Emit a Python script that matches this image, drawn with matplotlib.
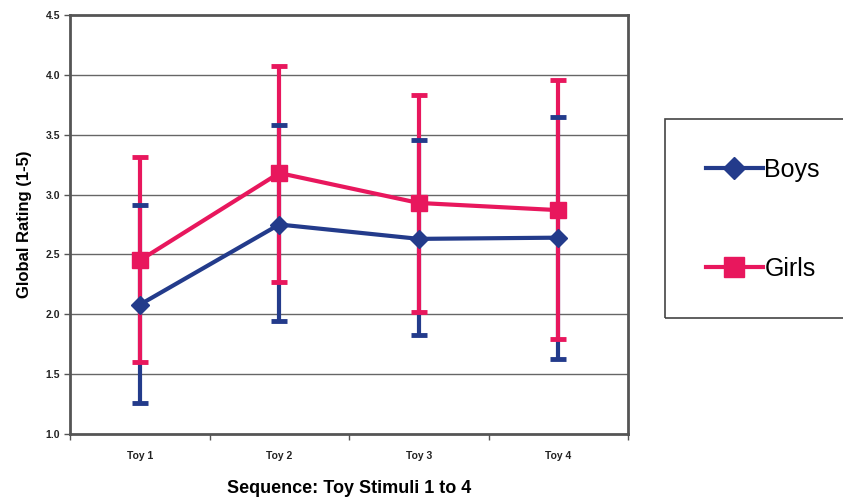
import matplotlib.pyplot as plt
from matplotlib.patches import Rectangle
from matplotlib.ticker import FixedLocator

plt.rcParams['font.family'] = ['Liberation Sans', 'DejaVu Sans']

# Données
toys = ['Toy 1', 'Toy 2', 'Toy 3', 'Toy 4']
boys_mean = [2.08, 2.75, 2.63, 2.64]
boys_upper = [2.91, 3.58, 3.46, 3.65]
boys_lower = [1.26, 1.94, 1.83, 1.63]
girls_mean = [2.45, 3.18, 2.93, 2.87]
girls_upper = [3.31, 4.07, 3.83, 3.96]
girls_lower = [1.60, 2.27, 2.02, 1.79]
y_ticks = [1.0, 1.5, 2.0, 2.5, 3.0, 3.5, 4.0, 4.5]

boys_color = '#233b8b'
girls_color = '#e8175d'

x = list(range(1, len(toys) + 1))

fig = plt.figure(figsize=(8.43, 4.98), dpi=100)
ax = fig.add_axes([70 / 843, 64 / 498, 558 / 843, 419 / 498])

# Lignes de grille
for y in y_ticks[1:-1]:
    ax.axhline(y, color='#666666', linewidth=1.0, zorder=1)

# Barres d'erreur
boys_err = [[m - l for m, l in zip(boys_mean, boys_lower)],
            [u - m for m, u in zip(boys_mean, boys_upper)]]
girls_err = [[m - l for m, l in zip(girls_mean, girls_lower)],
             [u - m for m, u in zip(girls_mean, girls_upper)]]

b_line, b_caps, b_bars = ax.errorbar(x, boys_mean, yerr=boys_err, fmt='none',
                                     ecolor=boys_color, elinewidth=3, capsize=6,
                                     capthick=3.5, zorder=2)
g_line, g_caps, g_bars = ax.errorbar(x, girls_mean, yerr=girls_err, fmt='none',
                                     ecolor=girls_color, elinewidth=3, capsize=6,
                                     capthick=3.5, zorder=3)
for c in b_caps:
    c.set_zorder(4)

# Courbes
ax.plot(x, girls_mean, color=girls_color, linewidth=3, marker='s',
        markersize=11, label='Girls', zorder=5)
ax.plot(x, boys_mean, color=boys_color, linewidth=3, marker='D',
        markersize=9, label='Boys', zorder=6)

ax.set_xlim(0.5, 4.5)
ax.set_ylim(1.0, 4.5)
ax.set_yticks(y_ticks)
ax.set_yticklabels([f'{v:.1f}' for v in y_ticks], fontsize=7.5, fontweight='bold', color='#222222')
ax.set_xticks(x)
ax.set_xticklabels(toys, fontsize=7.5, fontweight='bold', color='#222222')
ax.tick_params(axis='x', which='major', length=0, pad=12)
ax.xaxis.set_minor_locator(FixedLocator([0.5, 1.5, 2.5, 3.5, 4.5]))
ax.tick_params(axis='x', which='minor', length=4, width=1, color='#555555', direction='out')
ax.tick_params(axis='y', length=4, width=1, color='#555555', direction='out', pad=3)

for s in ax.spines.values():
    s.set_color('#555555')
    s.set_linewidth(2)

ax.set_ylabel('Global Rating (1-5)', fontsize=12, fontweight='bold', labelpad=10)
ax.set_xlabel('Sequence: Toy Stimuli 1 to 4', fontsize=13, fontweight='bold', labelpad=14)

# Légende dans un cadre qui dépasse à droite
fig.patches.append(Rectangle((665 / 843, 180 / 498), 200 / 843, 199 / 498,
                             transform=fig.transFigure, fill=False,
                             edgecolor='#444444', linewidth=1.2))
handles, labels = ax.get_legend_handles_labels()
fig.legend(handles[::-1], labels[::-1], loc='upper left',
           bbox_to_anchor=(693 / 843, 353 / 498), frameon=False,
           fontsize=18, handlelength=2.3, handletextpad=0.05, labelspacing=3.0,
           borderpad=0, markerscale=1.3)

fig.savefig('out.png', dpi=100)
